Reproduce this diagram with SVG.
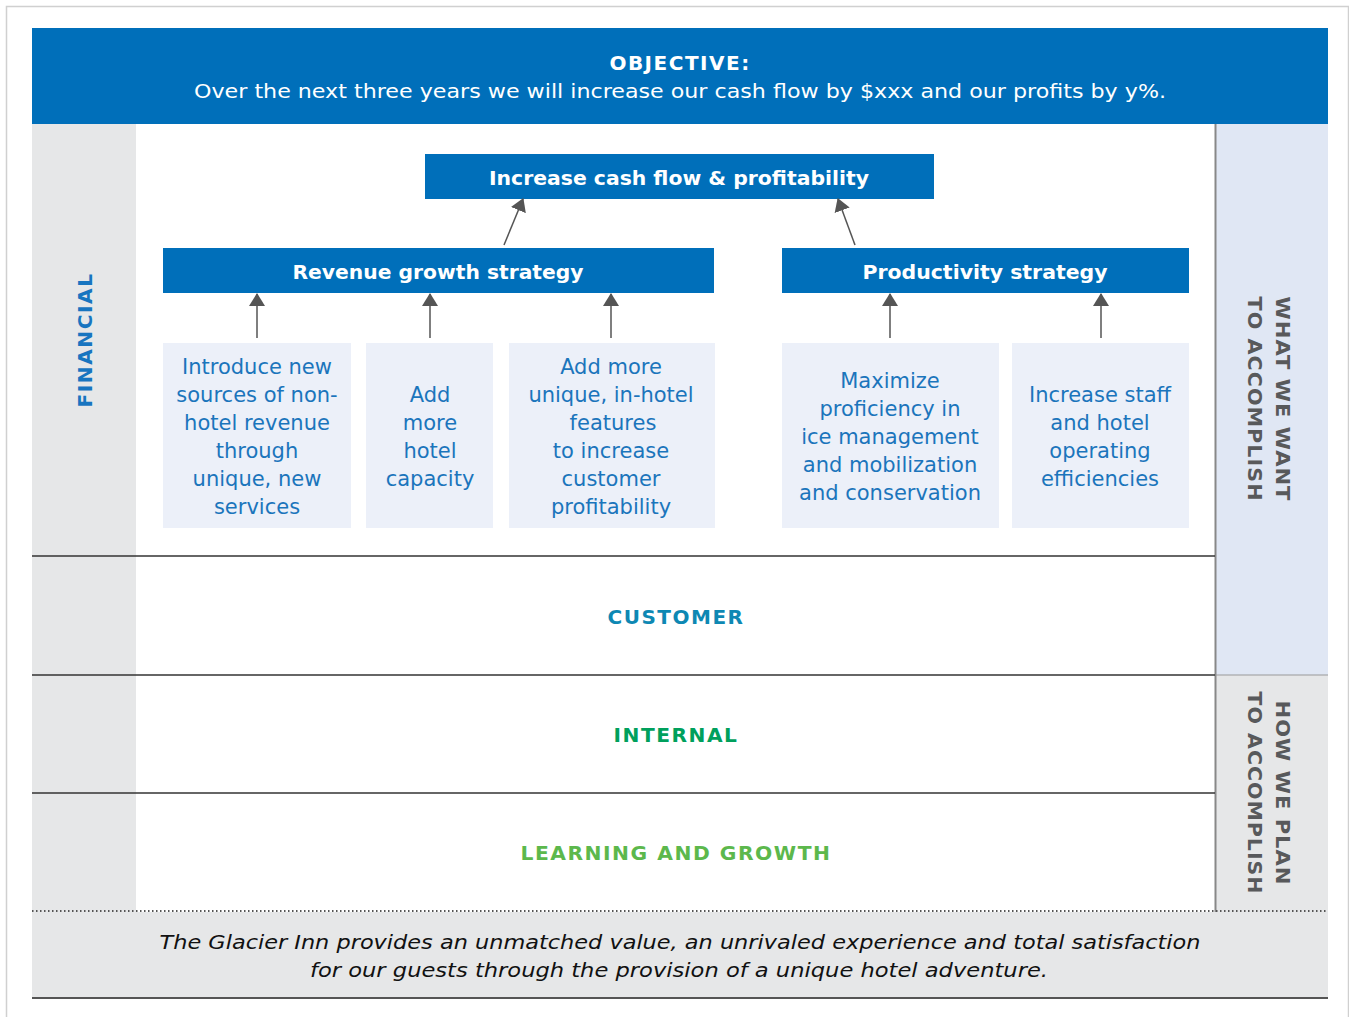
<svg xmlns="http://www.w3.org/2000/svg" width="1349" height="1017" viewBox="0 0 1349 1017">
<style>
text{font-family:"DejaVu Sans","Liberation Sans",sans-serif;}
.hdr{fill:#fff;font-weight:bold;font-size:20px;text-anchor:middle;}
.leafbox{fill:#ECF0F9;}
.leaf{fill:#1B75BC;font-size:21px;text-anchor:middle;}
.blue{fill:#006FBA;}
.sec{font-weight:bold;font-size:20px;text-anchor:middle;letter-spacing:1.5px;}
.side{fill:#58595B;font-weight:bold;font-size:20px;text-anchor:middle;letter-spacing:1px;}
.conn{stroke:#555;stroke-width:1.5;fill:none;marker-end:url(#ah);}
.rule{stroke:#333;stroke-width:1.5;}
</style>
<defs>
<marker id="ah" viewBox="0 0 13 16" refX="12" refY="8" markerWidth="13" markerHeight="16" markerUnits="userSpaceOnUse" orient="auto">
<path d="M0,0 L13,8 L0,16 Z" fill="#555"/>
</marker>
</defs>
<rect x="0" y="0" width="1349" height="1017" fill="#fff"/>
<rect x="6.5" y="6.5" width="1342" height="1020" fill="#fff" stroke="#d0d0d0" stroke-width="1.5"/>

<g id="background">
<rect x="32" y="124" width="104" height="788" fill="#E6E7E8"/>
<rect x="1216" y="124" width="112" height="551" fill="#E0E7F4"/>
<rect x="1216" y="675" width="112" height="237" fill="#E6E7E8"/>
<rect x="32" y="912" width="1296" height="86" fill="#E6E7E8"/>
<line x1="1215.5" y1="124" x2="1215.5" y2="912" stroke="#888" stroke-width="2"/>
<line x1="1216" y1="675" x2="1328" y2="675" stroke="#999" stroke-width="1"/>
<line class="rule" x1="32" y1="556" x2="1215" y2="556"/>
<line class="rule" x1="32" y1="675" x2="1215" y2="675"/>
<line class="rule" x1="32" y1="793" x2="1215" y2="793"/>
<line x1="32" y1="911" x2="1328" y2="911" stroke="#555" stroke-width="2" stroke-dasharray="1.5 2.5"/>
<line x1="32" y1="998" x2="1328" y2="998" stroke="#555" stroke-width="2"/>
</g>

<g id="objective">
<rect class="blue" x="32" y="28" width="1296" height="96"/>
<text class="hdr" x="680" y="70" style="letter-spacing:1.5px">OBJECTIVE:</text>
<text x="680" y="98" fill="#fff" font-size="20" text-anchor="middle" textLength="972" lengthAdjust="spacingAndGlyphs">Over the next three years we will increase our cash flow by $xxx and our profits by y%.</text>
</g>

<g id="node-increase">
<rect class="blue" x="425" y="154" width="509" height="45"/>
<text class="hdr" x="679" y="185" textLength="380" lengthAdjust="spacingAndGlyphs">Increase cash flow &amp; profitability</text>
</g>
<g id="node-revenue">
<rect class="blue" x="163" y="248" width="551" height="45"/>
<text class="hdr" x="438" y="279" textLength="291" lengthAdjust="spacingAndGlyphs">Revenue growth strategy</text>
</g>
<g id="node-productivity">
<rect class="blue" x="782" y="248" width="407" height="45"/>
<text class="hdr" x="985" y="279" textLength="245" lengthAdjust="spacingAndGlyphs">Productivity strategy</text>
</g>

<g id="leaf-1">
<rect class="leafbox" x="163" y="343" width="188" height="185"/>
<text class="leaf" x="257"><tspan x="257" y="374">Introduce new</tspan><tspan x="257" y="402">sources of non-</tspan><tspan x="257" y="430">hotel revenue</tspan><tspan x="257" y="458">through</tspan><tspan x="257" y="486">unique, new</tspan><tspan x="257" y="514">services</tspan></text>
</g>
<g id="leaf-2">
<rect class="leafbox" x="366" y="343" width="127" height="185"/>
<text class="leaf" x="430"><tspan x="430" y="402">Add</tspan><tspan x="430" y="430">more</tspan><tspan x="430" y="458">hotel</tspan><tspan x="430" y="486">capacity</tspan></text>
</g>
<g id="leaf-3">
<rect class="leafbox" x="509" y="343" width="206" height="185"/>
<text class="leaf" x="611"><tspan x="611" y="374">Add more</tspan><tspan x="611" y="402">unique, in-hotel</tspan><tspan x="613" y="430">features</tspan><tspan x="611" y="458">to increase</tspan><tspan x="611" y="486">customer</tspan><tspan x="611" y="514">profitability</tspan></text>
</g>
<g id="leaf-4">
<rect class="leafbox" x="782" y="343" width="217" height="185"/>
<text class="leaf" x="890"><tspan x="890" y="388">Maximize</tspan><tspan x="890" y="416">proficiency in</tspan><tspan x="890" y="444">ice management</tspan><tspan x="890" y="472">and mobilization</tspan><tspan x="890" y="500">and conservation</tspan></text>
</g>
<g id="leaf-5">
<rect class="leafbox" x="1012" y="343" width="177" height="185"/>
<text class="leaf" x="1100"><tspan x="1100" y="402">Increase staff</tspan><tspan x="1100" y="430">and hotel</tspan><tspan x="1100" y="458">operating</tspan><tspan x="1100" y="486">efficiencies</tspan></text>
</g>

<g id="connectors">
<line class="conn" x1="504" y1="245" x2="523" y2="199"/>
<line class="conn" x1="855" y1="245" x2="838" y2="199"/>
<line class="conn" x1="257" y1="338" x2="257" y2="294"/>
<line class="conn" x1="430" y1="338" x2="430" y2="294"/>
<line class="conn" x1="611" y1="338" x2="611" y2="294"/>
<line class="conn" x1="890" y1="338" x2="890" y2="294"/>
<line class="conn" x1="1101" y1="338" x2="1101" y2="294"/>
</g>

<g id="labels">
<text class="sec" fill="#1875C0" transform="translate(92,340) rotate(-90)" textLength="135" lengthAdjust="spacingAndGlyphs">FINANCIAL</text>
<text class="sec" x="676" y="624" fill="#0E88B3" textLength="137" lengthAdjust="spacingAndGlyphs">CUSTOMER</text>
<text class="sec" x="676" y="742" fill="#00A05C" textLength="125" lengthAdjust="spacingAndGlyphs">INTERNAL</text>
<text class="sec" x="676" y="860" fill="#5CB84C" textLength="311" lengthAdjust="spacingAndGlyphs">LEARNING AND GROWTH</text>
<g transform="translate(1276,399) rotate(90)">
<text class="side" x="0" y="0" textLength="205" lengthAdjust="spacingAndGlyphs">WHAT WE WANT</text>
<text class="side" x="0" y="28" textLength="205" lengthAdjust="spacingAndGlyphs">TO ACCOMPLISH</text>
</g>
<g transform="translate(1276,793) rotate(90)">
<text class="side" x="0" y="0" textLength="185" lengthAdjust="spacingAndGlyphs">HOW WE PLAN</text>
<text class="side" x="0" y="28" textLength="203" lengthAdjust="spacingAndGlyphs">TO ACCOMPLISH</text>
</g>
</g>

<g id="mission">
<text x="680" y="949" fill="#111" font-size="20" font-style="italic" text-anchor="middle" textLength="1041" lengthAdjust="spacingAndGlyphs">The Glacier Inn provides an unmatched value, an unrivaled experience and total satisfaction</text>
<text x="679" y="977" fill="#111" font-size="20" font-style="italic" text-anchor="middle" textLength="738" lengthAdjust="spacingAndGlyphs">for our guests through the provision of a unique hotel adventure.</text>
</g>
</svg>
